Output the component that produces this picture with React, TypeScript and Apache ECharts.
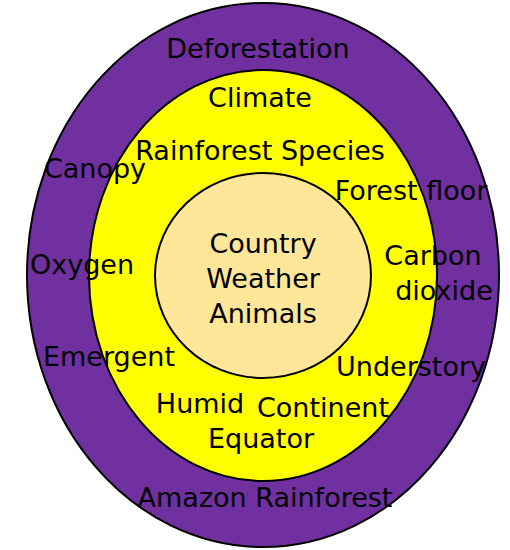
import React, { useEffect, useRef } from "react";
import * as echarts from "echarts";

// Ring contents (text of each layer)
const outerTerms = [
  "Deforestation",
  "Canopy",
  "Oxygen",
  "Emergent",
  "Amazon Rainforest",
];
const middleTerms = [
  "Climate",
  "Rainforest Species",
  "Forest floor",
  "Carbon\ndioxide",
  "Understory",
  "Humid",
  "Continent",
  "Equator",
];
const coreTerms = ["Country\nWeather\nAnimals"];

// Layout (positions only, one per text line)
const outerPos = [
  [[258, 48]],
  [[95, 168]],
  [[82, 264]],
  [[109, 356]],
  [[265, 497]],
];
const middlePos = [
  [[260, 97]],
  [[260, 150]],
  [[411, 190]],
  [[433, 255], [444, 290]],
  [[411, 366]],
  [[200, 403]],
  [[323, 407]],
  [[261, 438]],
];
const corePos = [[[263, 243], [263, 278], [263, 313]]];

const FONT = "'Comic Sans MS', 'DejaVu Sans', sans-serif";
const SIZE = 27;

function txt(s: string, p: number[]) {
  return {
    type: "text",
    x: p[0],
    y: p[1],
    z: 10,
    style: {
      text: s,
      fill: "#000",
      font: `${SIZE}px ${FONT}`,
      fontSize: SIZE,
      fontFamily: FONT,
      align: "center",
      verticalAlign: "middle",
      textAlign: "center",
      textVerticalAlign: "middle",
    },
  };
}

function addTerms(elements: any[], terms: string[], pos: number[][][]) {
  terms.forEach((t, i) => {
    t.split("\n").forEach((line, j) => elements.push(txt(line, pos[i][j])));
  });
}

export default function App() {
  const ref = useRef<HTMLDivElement>(null);
  useEffect(() => {
    if (!ref.current) return;
    const chart = echarts.init(ref.current, null, { renderer: "svg" });
    const elements: any[] = [
      {
        type: "ellipse",
        shape: { cx: 263, cy: 275, rx: 236, ry: 272 },
        style: { fill: "#7030A0", stroke: "#000", lineWidth: 2 },
        z: 1,
      },
      {
        type: "ellipse",
        shape: { cx: 263, cy: 275.5, rx: 174, ry: 205.5 },
        style: { fill: "#FFFF00", stroke: "#000", lineWidth: 2 },
        z: 2,
      },
      {
        type: "ellipse",
        shape: { cx: 263, cy: 275.5, rx: 108, ry: 102.5 },
        style: { fill: "#FFE699", stroke: "#000", lineWidth: 2 },
        z: 3,
      },
    ];
    addTerms(elements, outerTerms, outerPos);
    addTerms(elements, middleTerms, middlePos);
    addTerms(elements, coreTerms, corePos);
    chart.setOption({
      animation: false,
      backgroundColor: "#ffffff",
      graphic: { elements },
    });
    return () => chart.dispose();
  }, []);
  return (
    <div
      ref={ref}
      style={{ width: 510, height: 550, position: "absolute", left: 0, top: 0 }}
    />
  );
}
